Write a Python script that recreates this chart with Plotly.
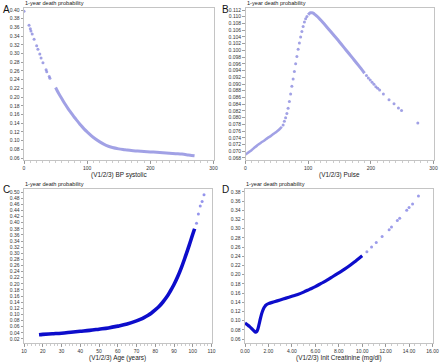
import plotly.graph_objects as go

# ---------------- data ----------------
# A: BP systolic
a_sparse_x = [0, 8, 10, 11, 13, 16, 20, 22, 25, 27, 30, 35, 36, 40, 41]
a_sparse_y = [0.397, 0.365, 0.357, 0.352, 0.345, 0.333, 0.318, 0.310, 0.299, 0.290, 0.279, 0.263, 0.258, 0.247, 0.243]
a_dense_x = [50, 55, 60, 65, 70, 75, 80, 85, 90, 95, 100, 110, 120, 130, 140, 150, 160, 170, 180, 190, 200, 210, 220, 230, 240, 250, 260, 265, 270]
a_dense_y = [0.222, 0.208, 0.196, 0.184, 0.173, 0.163, 0.153, 0.144, 0.135, 0.127, 0.120, 0.107, 0.097, 0.089, 0.084, 0.081, 0.079, 0.077, 0.076, 0.075, 0.074, 0.073, 0.072, 0.071, 0.070, 0.069, 0.067, 0.066, 0.065]

# B: Pulse
b_low_x = [0, 5, 10, 15, 20, 25, 30, 35, 40, 45, 50, 55, 58]
b_low_y = [0.0690, 0.0697, 0.0704, 0.0712, 0.0719, 0.0726, 0.0732, 0.0739, 0.0745, 0.0752, 0.0759, 0.0767, 0.0773]
b_rise_x = [60, 62, 64, 66, 68, 70, 72, 74, 76, 78, 80, 82, 84, 86, 88, 90, 92, 94, 96, 98]
b_rise_y = [0.0778, 0.0789, 0.0800, 0.0812, 0.0828, 0.0848, 0.0870, 0.0893, 0.0915, 0.0937, 0.0960, 0.0982, 0.1003, 0.1022, 0.1040, 0.1056, 0.1071, 0.1084, 0.1094, 0.1101]
b_peak_x = [100, 102, 104, 106, 108, 110, 115, 120, 130, 140, 150, 160, 170, 180, 190]
b_peak_y = [0.1106, 0.1110, 0.1112, 0.1112, 0.1111, 0.1108, 0.1100, 0.1090, 0.1069, 0.1047, 0.1025, 0.1002, 0.0979, 0.0956, 0.0932]
b_tail_x = [193, 196, 199, 202, 205, 208, 211, 214, 220, 229, 237, 244, 249, 275]
b_tail_y = [0.0925, 0.0918, 0.0912, 0.0905, 0.0899, 0.0892, 0.0887, 0.0882, 0.0870, 0.0853, 0.0841, 0.0829, 0.0821, 0.0784]

# C: Age
c_dense_x = [18, 20, 25, 30, 35, 40, 45, 50, 55, 60, 65, 70, 72, 74, 76, 78, 80, 82, 84, 86, 88, 90, 92, 94, 96, 98, 100, 101]
c_dense_y = [0.034, 0.035, 0.037, 0.039, 0.042, 0.045, 0.048, 0.052, 0.056, 0.062, 0.069, 0.079, 0.084, 0.090, 0.097, 0.105, 0.115, 0.126, 0.140, 0.156, 0.176, 0.198, 0.224, 0.254, 0.288, 0.324, 0.362, 0.380]
c_sparse_x = [102, 103, 104, 105, 106]
c_sparse_y = [0.398, 0.428, 0.454, 0.469, 0.491]

# D: Init Creatinine
d_dense_x = [0, 0.2, 0.4, 0.6, 0.8, 0.9, 1.0, 1.1, 1.2, 1.3, 1.4, 1.5, 1.6, 1.7, 1.8, 2.0, 2.5, 3.0, 3.5, 4.0, 4.5, 5.0, 5.5, 6.0, 6.5, 7.0, 7.5, 8.0, 8.5, 9.0, 9.5, 10.0]
d_dense_y = [0.095, 0.091, 0.087, 0.082, 0.077, 0.075, 0.076, 0.082, 0.092, 0.103, 0.113, 0.121, 0.127, 0.131, 0.134, 0.137, 0.141, 0.145, 0.149, 0.153, 0.157, 0.162, 0.168, 0.174, 0.181, 0.188, 0.196, 0.204, 0.212, 0.221, 0.231, 0.241]
d_sparse_x = [10.4, 10.8, 11.2, 11.7, 12.3, 12.5, 13.0, 13.2, 13.8, 14.0, 14.3, 14.8]
d_sparse_y = [0.250, 0.260, 0.270, 0.283, 0.298, 0.304, 0.318, 0.323, 0.340, 0.346, 0.354, 0.371]

x_titles = ["(V1/2/3) BP systolic", "(V1/2/3) Pulse", "(V1/2/3) Age (years)", "(V1/2/3) Init Creatinine (mg/dl)"]
y_title = "1-year death probability"
panel_letters = ["A", "B", "C", "D"]

# ---------------- figure ----------------
W, H = 440, 363
LIGHT = "rgba(130,130,220,0.75)"
DARK = "rgba(0,0,200,0.95)"
DARK_SPARSE = "rgba(60,60,220,0.55)"

fig = go.Figure()

def dense(x, y, xa, ya, color, width):
    fig.add_trace(go.Scatter(x=x, y=y, mode="lines", xaxis=xa, yaxis=ya,
                             line=dict(color=color, width=width, shape="spline"),
                             hoverinfo="skip", showlegend=False))

def sparse(x, y, xa, ya, color, size):
    fig.add_trace(go.Scatter(x=x, y=y, mode="markers", xaxis=xa, yaxis=ya,
                             marker=dict(color=color, size=size, symbol="circle"),
                             hoverinfo="skip", showlegend=False))

sparse(a_sparse_x, a_sparse_y, "x", "y", LIGHT, 3)
dense(a_dense_x, a_dense_y, "x", "y", LIGHT, 3)

dense(b_low_x, b_low_y, "x2", "y2", LIGHT, 2.5)
sparse(b_rise_x, b_rise_y, "x2", "y2", LIGHT, 3)
dense(b_peak_x, b_peak_y, "x2", "y2", LIGHT, 3)
sparse(b_tail_x, b_tail_y, "x2", "y2", LIGHT, 3)

dense(c_dense_x, c_dense_y, "x3", "y3", DARK, 3.6)
sparse(c_sparse_x, c_sparse_y, "x3", "y3", DARK_SPARSE, 3)

dense(d_dense_x, d_dense_y, "x4", "y4", DARK, 3.2)
sparse(d_sparse_x, d_sparse_y, "x4", "y4", "rgba(90,90,220,0.6)", 3)

def px(v):
    return v / W

def py(v):
    return 1 - v / H

TICKFONT = dict(family="Liberation Sans, Arial, sans-serif", size=5, color="#333333")
frame = dict(showline=True, linecolor="#c4c4c4", linewidth=1, mirror=True,
             showgrid=False, zeroline=False, ticks="outside", ticklen=2.5,
             tickcolor="#888888", tickwidth=0.8, tickfont=TICKFONT, automargin=False)

# positions in pixels (left, right, top, bottom)
boxes = {
    1: (24, 213.5, 8, 160),
    2: (245.5, 433.5, 8, 160),
    3: (24, 211.5, 189, 343),
    4: (245, 432.5, 189, 343),
}
xranges = {1: [0, 300], 2: [0, 300], 3: [10, 110], 4: [0, 16]}
yranges = {1: [0.0554, 0.4046], 2: [0.0674, 0.1126], 3: [0.0069, 0.5098], 4: [0.0513, 0.3865]}
xticks = {
    1: dict(tickvals=[0, 100, 200, 300], minor_dtick=10),
    2: dict(tickvals=[0, 100, 200, 300], minor_dtick=10),
    3: dict(tickvals=list(range(10, 111, 10)), minor_dtick=2),
    4: dict(tickvals=[0, 2, 4, 6, 8, 10, 12, 14, 16], minor_dtick=0.5),
}
yfmt = {1: ".2f", 2: ".3f", 3: ".2f", 4: ".2f"}
ydt = {1: 0.02, 2: 0.002, 3: 0.02, 4: 0.02}
y0 = {1: 0.06, 2: 0.068, 3: 0.02, 4: 0.06}
letter_dx = {1: 23.5, 2: 25, 3: 23.5, 4: 24.5}

layout = {}
for i in range(1, 5):
    l, r, t, b = boxes[i]
    xk = "xaxis" if i == 1 else f"xaxis{i}"
    yk = "yaxis" if i == 1 else f"yaxis{i}"
    xt = xticks[i]
    xfmt = ".2f" if i == 4 else "d"
    layout[xk] = dict(frame, domain=[px(l), px(r)], range=xranges[i],
                      anchor="y" if i == 1 else f"y{i}",
                      tickvals=xt["tickvals"], tickformat=xfmt,
                      minor=dict(dtick=xt["minor_dtick"], ticks="outside", ticklen=1.5,
                                 tickcolor="#aaaaaa", tickwidth=0.6))
    layout[yk] = dict(frame, domain=[py(b), py(t)], range=yranges[i],
                      anchor="x" if i == 1 else f"x{i}",
                      tick0=y0[i], dtick=ydt[i], tickformat=yfmt[i])

fig.update_layout(**layout)

annotations = []
TITLEFONT = dict(family="Liberation Sans, Arial, sans-serif", size=6.4, color="#222222")
for i in range(1, 5):
    l, r, t, b = boxes[i]
    annotations.append(dict(text=x_titles[i - 1], x=px((l + r) / 2), y=py(b + 15),
                            xref="paper", yref="paper", xanchor="center", yanchor="middle",
                            showarrow=False, font=TITLEFONT))
    annotations.append(dict(text=y_title, x=px(l - 1), y=py(t - 5),
                            xref="paper", yref="paper", xanchor="left", yanchor="middle",
                            showarrow=False, font=dict(TITLEFONT, size=5.6)))
    annotations.append(dict(text=panel_letters[i - 1], x=px(l - letter_dx[i]),
                            y=py(t + 1), xref="paper", yref="paper",
                            xanchor="left", yanchor="middle", showarrow=False,
                            font=dict(family="Liberation Sans, Arial, sans-serif", size=10, color="#111111")))

fig.update_layout(template="none", width=W, height=H, margin=dict(l=0, r=0, t=0, b=0, pad=0),
                  paper_bgcolor="white", plot_bgcolor="white",
                  annotations=annotations, showlegend=False)

fig.write_html("out.html", config={"displayModeBar": False, "staticPlot": True},
               post_script="document.body.style.margin='0px';document.body.style.overflow='hidden';")
